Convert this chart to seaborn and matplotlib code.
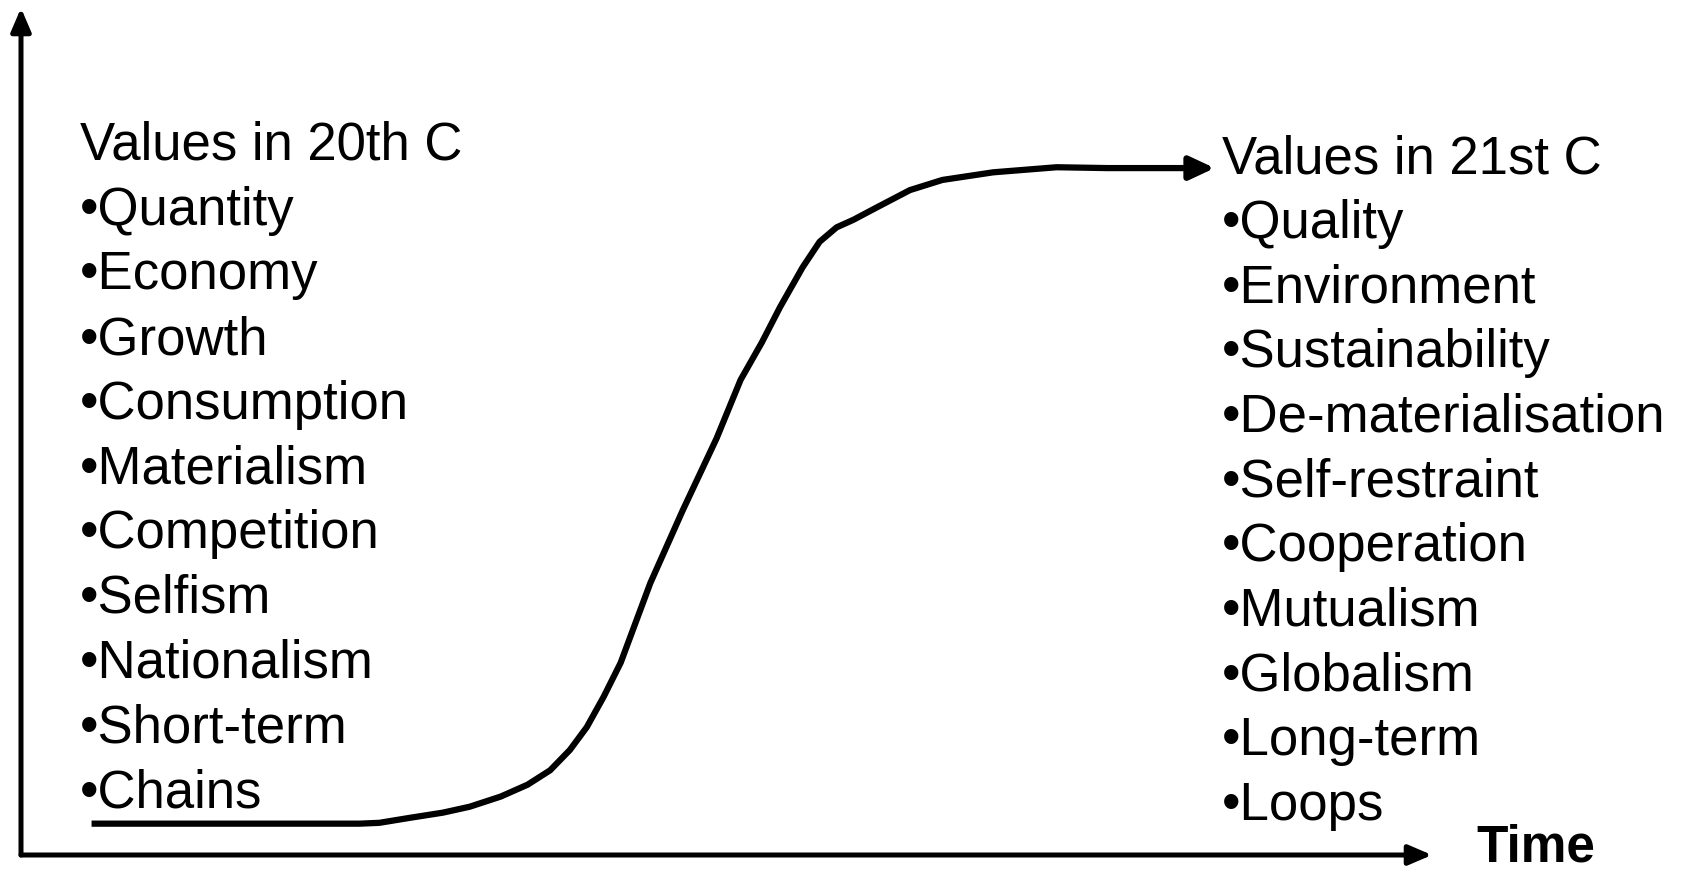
import matplotlib
matplotlib.use("Agg")
import matplotlib.pyplot as plt
import seaborn as sns
import pandas as pd

# S-curve (time vs. value, arbitrary units 0-100)
time = [5.0, 24.0, 25.4, 27.6, 29.9, 31.8, 34.0, 35.9, 37.5, 38.9, 40.1, 41.3,
        42.5, 44.6, 46.9, 49.3, 51.0, 52.5, 53.8, 55.4, 56.6, 57.8, 59.0,
        60.7, 63.0, 65.3, 68.9, 73.4, 77.0]
value = [3.7, 3.7, 3.8, 4.4, 5.0, 5.7, 6.9, 8.3, 10.0, 12.4, 15.1, 18.7,
         22.7, 32.1, 40.7, 49.2, 56.1, 60.5, 64.7, 69.4, 72.4, 74.1, 75.0,
         76.5, 78.5, 79.7, 80.6, 81.2, 81.1]
arrow_end = 84.6

left_title = "Values in 20th C"
left_items = ["Quantity", "Economy", "Growth", "Consumption", "Materialism",
              "Competition", "Selfism", "Nationalism", "Short-term", "Chains"]
right_title = "Values in 21st C"
right_items = ["Quality", "Environment", "Sustainability", "De-materialisation",
               "Self-restraint", "Cooperation", "Mutualism", "Globalism",
               "Long-term", "Loops"]

sns.set_theme(style="white")
plt.rcParams["font.family"] = ["Liberation Sans", "DejaVu Sans"]
plt.rcParams["text.color"] = "black"

W, H = 1689, 872
fig = plt.figure(figsize=(W / 100, H / 100), dpi=100)
ax = fig.add_axes([21 / W, 17 / H, 1411 / W, 847 / H])
ax.set_xlim(0, 100)
ax.set_ylim(0, 100)
ax.axis("off")

df = pd.DataFrame({"time": time, "value": value})
sns.lineplot(data=df, x="time", y="value", sort=False, color="black",
             lw=4.5, ax=ax, solid_capstyle="butt", solid_joinstyle="round")
ax.annotate("", xy=(arrow_end, value[-1]), xytext=(time[-1], value[-1]),
            arrowprops=dict(arrowstyle="-|>,head_length=0.75,head_width=0.35",
                            mutation_scale=20, lw=4.5, color="black",
                            shrinkA=0, shrinkB=0))

# axis arrows
for end in [(0, 1), (1, 0)]:
    ax.annotate("", xy=end, xytext=(0, 0), xycoords="axes fraction",
                textcoords="axes fraction",
                arrowprops=dict(arrowstyle="-|>,head_length=0.7,head_width=0.3",
                                mutation_scale=20, lw=3.6, color="black",
                                shrinkA=0, shrinkB=0))

fs = 38
step = 64.7


def block(x, y0, title, items):
    fig.text(x / W, 1 - y0 / H, title, fontsize=fs, va="baseline", ha="left")
    for i, item in enumerate(items):
        fig.text(x / W, 1 - (y0 + step * (i + 1)) / H, "\u2022" + item,
                 fontsize=fs, va="baseline", ha="left")


block(80, 160, left_title, left_items)
block(1222, 173, right_title, right_items)

fig.text(1476 / W, 1 - 861 / H, "Time", fontsize=37, fontweight="bold",
         va="baseline", ha="left")

fig.savefig("out.png", dpi=100, facecolor="white")
